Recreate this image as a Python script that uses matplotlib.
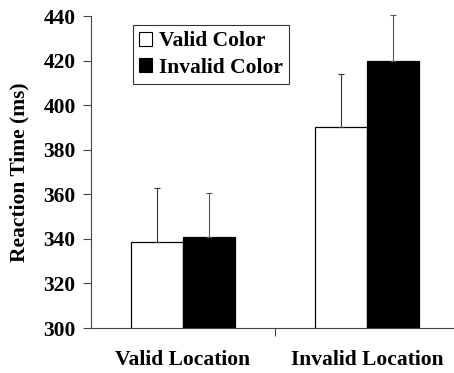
import numpy as np
import matplotlib
matplotlib.use('Agg')
import matplotlib.pyplot as plt
from matplotlib.patches import Patch

# values
locations = ['Valid Location', 'Invalid Location']
series = ['Valid Color', 'Invalid Color']
rt_valid_color = [338.5, 390.2]
rt_invalid_color = [340.7, 420.0]
err_valid_color = [24.3, 23.6]
err_invalid_color = [20.0, 20.4]
y_ticks = [300, 320, 340, 360, 380, 400, 420, 440]

plt.rcParams['font.family'] = ['Liberation Serif', 'DejaVu Serif']
plt.rcParams['font.weight'] = 'bold'
fs = 15.5

fig = plt.figure(figsize=(4.54, 3.73), dpi=100)
ax = fig.add_axes([91/454, 45/373, 368/454, 312/373])

x = np.arange(len(locations)) + 0.5
w = 0.283

ax.bar(x - w/2, rt_valid_color, w, color='white', edgecolor='black', linewidth=0.9)
ax.bar(x + w/2, rt_invalid_color, w, color='black', edgecolor='black', linewidth=0.9)

# only the upper half of each error bar is drawn
for xs, ys, es, c in [(x - w/2, rt_valid_color, err_valid_color, '#333333'),
                      (x + w/2, rt_invalid_color, err_invalid_color, '#555555')]:
    eb = ax.errorbar(xs, ys, yerr=[np.zeros(2), es], fmt='none', ecolor=c,
                     elinewidth=0.8, capsize=2.5, capthick=0.8)
    for art in eb.lines[1] + eb.lines[2]:
        art.set_clip_on(False)

ax.set_xlim(0, 2)
ax.set_ylim(300, 440)
ax.set_yticks(y_ticks)
ax.set_yticklabels([str(t) for t in y_ticks], fontsize=fs, fontweight='bold')
ax.set_xticks([1])
ax.set_xticklabels([''])
ax.set_xticks(x, minor=True)
ax.set_xticklabels(locations, minor=True, fontsize=fs, fontweight='bold')
ax.tick_params(axis='x', which='minor', length=0, pad=16)
ax.tick_params(axis='x', which='major', length=6, width=0.8, color='#444444')
ax.tick_params(axis='y', length=6, width=0.8, color='#444444', pad=5)

for s in ['top', 'right']:
    ax.spines[s].set_visible(False)
for s in ['left', 'bottom']:
    ax.spines[s].set_color('#444444')
    ax.spines[s].set_linewidth(0.8)

ax.set_ylabel('Reaction Time (ms)', fontsize=fs, fontweight='bold', labelpad=10)

handles = [Patch(facecolor='white', edgecolor='black', linewidth=0.8),
           Patch(facecolor='black', edgecolor='black', linewidth=0.8)]
leg = ax.legend(handles, series, loc='upper left', bbox_to_anchor=(42/368, 1 - 9/312),
                fancybox=False, edgecolor='#333333', framealpha=1,
                prop={'size': fs, 'weight': 'bold'},
                handlelength=0.6, handleheight=0.6, handletextpad=0.3,
                borderpad=0.3, labelspacing=0.3, borderaxespad=0)
leg.get_frame().set_linewidth(0.8)

fig.savefig('out.png', dpi=100)
